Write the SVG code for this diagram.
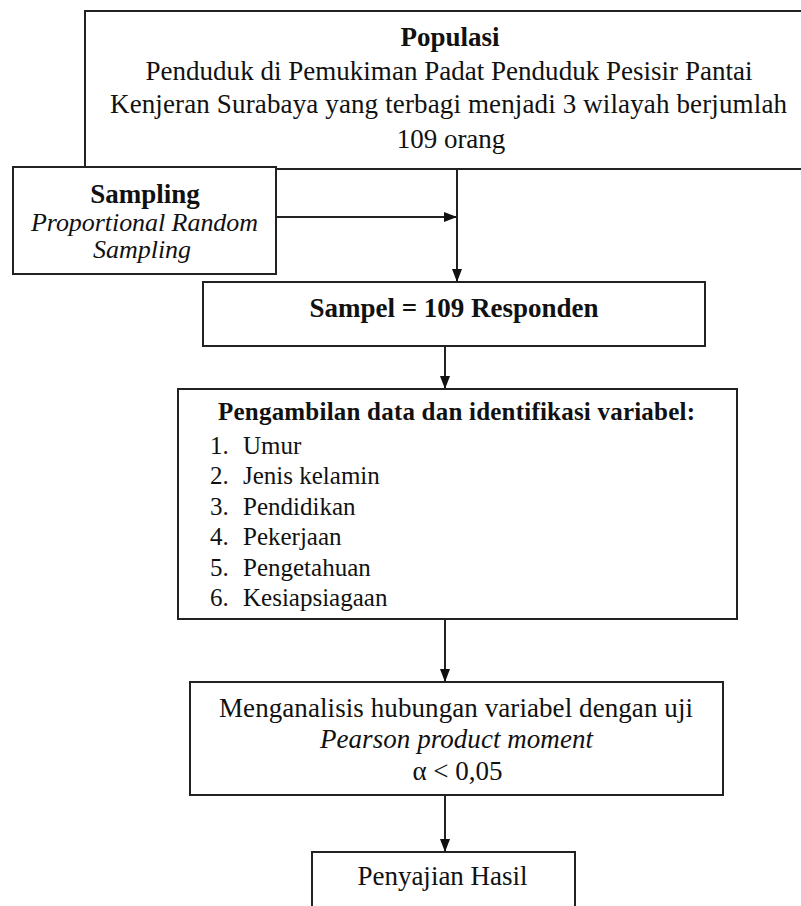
<svg xmlns="http://www.w3.org/2000/svg" width="801" height="906" viewBox="0 0 801 906">
<style>
.box{fill:#fff;stroke:#222;stroke-width:2}
.t{font-family:"Liberation Serif","Times New Roman",serif;font-size:27px;fill:#111}
.b{font-weight:bold}
.i{font-style:italic}
.c{text-anchor:middle}
.li{font-size:25px}
.conn{stroke:#222;stroke-width:2;fill:none}
</style>
<defs>
<marker id="ah" markerUnits="userSpaceOnUse" markerWidth="14" markerHeight="11" refX="13" refY="5" orient="auto">
<path d="M0,0 L13,5 L0,10 z" fill="#111"/>
</marker>
</defs>
<rect width="801" height="906" fill="#fff"/>
<g id="populasi">
<rect class="box" x="85" y="11" width="730" height="158"/>
<text class="t b c" x="450" y="46">Populasi</text>
<text class="t c" x="449" y="80" textLength="607">Penduduk di Pemukiman Padat Penduduk Pesisir Pantai</text>
<text class="t c" x="448.5" y="113" textLength="677">Kenjeran Surabaya yang terbagi menjadi 3 wilayah berjumlah</text>
<text class="t c" x="451" y="148">109 orang</text>
</g>
<g id="sampling">
<rect class="box" x="13" y="167" width="263" height="107"/>
<text class="t b c" x="145" y="203">Sampling</text>
<text class="t i c" x="144.5" y="231" style="font-size:26px" textLength="227">Proportional Random</text>
<text class="t i c" x="142" y="258" style="font-size:26px">Sampling</text>
</g>
<g id="sampel">
<rect class="box" x="203" y="282" width="502" height="64"/>
<text class="t b c" x="454" y="317">Sampel = 109 Responden</text>
</g>
<g id="pengambilan">
<rect class="box" x="178" y="389" width="559" height="230"/>
<text class="t b c" x="456.5" y="420" style="font-size:25px" textLength="477">Pengambilan data dan identifikasi variabel:</text>
<text class="t li" x="210" y="454">1.</text><text class="t li" x="243" y="454">Umur</text>
<text class="t li" x="210" y="484.4">2.</text><text class="t li" x="243" y="484.4">Jenis kelamin</text>
<text class="t li" x="210" y="514.8">3.</text><text class="t li" x="243" y="514.8">Pendidikan</text>
<text class="t li" x="210" y="545.2">4.</text><text class="t li" x="243" y="545.2">Pekerjaan</text>
<text class="t li" x="210" y="575.6">5.</text><text class="t li" x="243" y="575.6">Pengetahuan</text>
<text class="t li" x="210" y="606">6.</text><text class="t li" x="243" y="606">Kesiapsiagaan</text>
</g>
<g id="analisis">
<rect class="box" x="190" y="682" width="533" height="113"/>
<text class="t c" x="456" y="717" textLength="474">Menganalisis hubungan variabel dengan uji</text>
<text class="t i c" x="456.5" y="748" textLength="273">Pearson product moment</text>
<text class="t c" x="457.5" y="780">α &lt; 0,05</text>
</g>
<g id="penyajian">
<rect class="box" x="312" y="852" width="263" height="70"/>
<text class="t c" x="442.5" y="885">Penyajian Hasil</text>
</g>
<g id="connectors">
<line class="conn" x1="276" y1="217" x2="457" y2="217" marker-end="url(#ah)"/>
<line class="conn" x1="457" y1="169" x2="457" y2="282" marker-end="url(#ah)"/>
<line class="conn" x1="445" y1="346" x2="445" y2="389" marker-end="url(#ah)"/>
<line class="conn" x1="445" y1="619" x2="445" y2="682" marker-end="url(#ah)"/>
<line class="conn" x1="445" y1="795" x2="445" y2="852" marker-end="url(#ah)"/>
</g>
</svg>
